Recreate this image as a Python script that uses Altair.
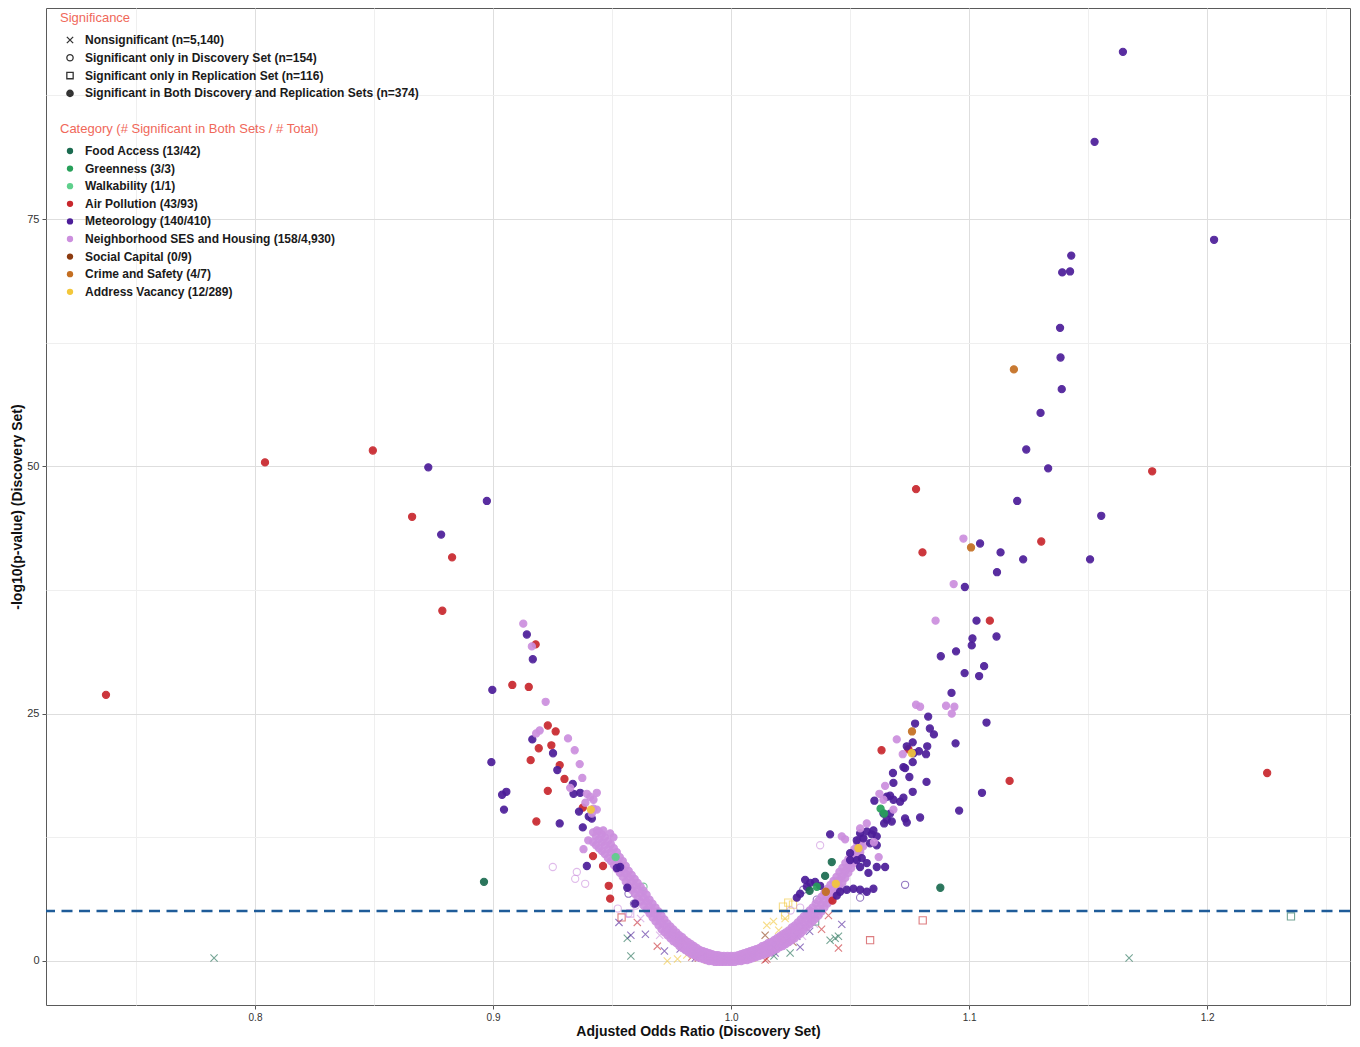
import altair as alt
import pandas as pd

FONT = "Liberation Sans"

CATEGORIES = [
    "Food Access (13/42)", "Greenness (3/3)", "Walkability (1/1)",
    "Air Pollution (43/93)", "Meteorology (140/410)",
    "Neighborhood SES and Housing (158/4,930)", "Social Capital (0/9)",
    "Crime and Safety (4/7)", "Address Vacancy (12/289)",
]
CAT_COLORS = ["#1b6b50", "#27a05a", "#5fd08c", "#c8272d", "#4c1d99",
              "#cc8fde", "#8c3b10", "#c46f22", "#f3c73a"]
SIGNIFICANCE = [
    "Nonsignificant (n=5,140)",
    "Significant only in Discovery Set (n=154)",
    "Significant only in Replication Set (n=116)",
    "Significant in Both Discovery and Replication Sets (n=374)",
]
X_GRID = [0.75, 0.8, 0.85, 0.9, 0.95, 1.0, 1.05, 1.1, 1.15, 1.2, 1.25]
Y_GRID = [0, 12.5, 25, 37.5, 50, 62.5, 75, 87.5]
X_DOMAIN = [0.7122, 1.2600]
Y_DOMAIN = [-4.45, 96.33]
THRESHOLD = 5.05

# ---- significant in both sets ----
air_both = [(0.7374, 26.9), (0.8042, 50.4), (0.8495, 51.6), (0.8660, 44.9), (0.8828, 40.8),
            (0.8787, 35.4), (0.9081, 27.9), (0.9150, 27.7), (0.9179, 32.0), (0.9230, 23.8),
            (0.9263, 23.2), (0.9192, 21.5), (0.9245, 21.8), (0.9158, 20.3), (0.9280, 19.8),
            (0.9300, 18.4), (0.9230, 17.2), (0.9377, 15.5), (0.9182, 14.1), (0.9420, 10.6),
            (0.9462, 9.6), (0.9486, 7.6), (0.9492, 6.3),
            (1.0777, 47.7), (1.0804, 41.3), (1.1303, 42.4), (1.1087, 34.4), (1.1769, 49.5),
            (1.2252, 19.0), (1.1170, 18.2), (1.0632, 21.3), (1.0745, 21.4), (1.0426, 6.1)]

met_both = [(0.8728, 49.9), (0.8782, 43.1), (0.8974, 46.5), (0.8997, 27.4), (0.8993, 20.1),
            (0.9142, 33.0), (0.9167, 30.5), (0.9165, 22.4), (0.9252, 21.0), (0.9270, 19.3),
            (0.9335, 17.9), (0.9366, 17.0), (0.9038, 16.8), (0.9056, 17.1), (0.9046, 15.3),
            (0.9361, 15.1), (0.9402, 14.6), (0.9280, 13.9), (0.9377, 13.5), (0.9394, 9.6),
            (0.9564, 7.4), (0.9520, 9.4), (0.9534, 9.5), (0.9338, 16.9), (0.9597, 5.8),
            (0.9415, 14.4),
            (1.1646, 91.9), (1.1527, 82.8), (1.2029, 72.9), (1.1429, 71.3), (1.1391, 69.6),
            (1.1424, 69.7), (1.1382, 64.0), (1.1384, 61.0), (1.1389, 57.8), (1.1300, 55.4),
            (1.1240, 51.7), (1.1332, 49.8), (1.1202, 46.5), (1.1555, 45.0), (1.1508, 40.6),
            (1.1227, 40.6), (1.1046, 42.2), (1.1132, 41.3), (1.1117, 39.3), (1.0982, 37.8),
            (1.1031, 34.4), (1.1014, 32.6), (1.1011, 31.9), (1.1115, 32.8), (1.0945, 31.3),
            (1.0881, 30.8), (1.1063, 29.8), (1.0981, 29.1), (1.1042, 28.8), (1.0926, 27.1),
            (1.0828, 24.7), (1.1073, 24.1), (1.0773, 24.0), (1.0835, 23.5), (1.0852, 22.9),
            (1.0943, 22.0), (1.0763, 22.1), (1.0824, 21.7), (1.0789, 21.2), (1.0819, 20.9),
            (1.0766, 21.0), (1.0738, 21.7), (1.0763, 20.1), (1.0724, 19.6), (1.0731, 19.5),
            (1.0749, 18.6), (1.0680, 19.0), (1.0682, 18.0), (1.0821, 18.1), (1.1054, 17.0),
            (1.0763, 17.1), (1.0602, 16.2), (1.0710, 16.1), (1.0724, 16.5), (1.0668, 16.7),
            (1.0654, 16.6), (1.0682, 16.3), (1.0958, 15.2), (1.0731, 14.4), (1.0794, 14.5),
            (1.0643, 13.9), (1.0675, 14.1), (1.0738, 14.0), (1.0654, 14.3), (1.0640, 14.9),
            (1.0668, 14.9), (1.0416, 12.8), (1.0542, 12.9), (1.0570, 13.1), (1.0591, 12.8),
            (1.0612, 12.6), (1.0598, 13.2), (1.0556, 12.4), (1.0584, 11.9), (1.0612, 11.7),
            (1.0528, 12.2), (1.0500, 10.9), (1.0500, 10.2), (1.0528, 10.2), (1.0549, 10.4),
            (1.0570, 9.9), (1.0542, 9.5), (1.0612, 9.5), (1.0647, 9.5), (1.0577, 8.9),
            (1.0311, 8.2), (1.0332, 7.9), (1.0353, 8.0), (1.0276, 6.4), (1.0318, 7.5),
            (1.0458, 7.0), (1.0486, 7.2), (1.0514, 7.3), (1.0542, 7.2), (1.0570, 7.0),
            (1.0598, 7.3), (1.0444, 6.6), (1.0290, 6.8), (1.0374, 7.6)]

ses_both = [(0.9127, 34.1), (0.9163, 31.8), (0.9221, 26.2), (0.9196, 23.3), (0.9181, 23.0),
            (0.9315, 22.5), (0.9343, 21.3), (0.9364, 19.9), (0.9375, 18.5), (0.9324, 17.5),
            (0.9436, 17.0), (0.9408, 16.6), (0.9388, 16.0), (0.9436, 15.3), (0.9422, 15.4),
            (0.9415, 14.9), (0.9422, 16.3), (0.9394, 16.9), (0.9436, 13.2), (0.9463, 13.2),
            (0.9492, 12.9), (0.9506, 12.5), (0.9400, 12.2), (0.9380, 11.3),
            (1.0976, 42.7), (1.0935, 38.1), (1.0859, 34.4), (1.0777, 25.9), (1.0794, 25.7),
            (1.0903, 25.8), (1.0938, 25.7), (1.0927, 25.0), (1.0696, 22.4), (1.0721, 20.9),
            (1.0647, 17.7), (1.0623, 16.9), (1.0640, 16.3), (1.0682, 15.3), (1.0570, 13.9),
            (1.0542, 13.4), (1.0465, 12.6), (1.0479, 12.3), (1.0600, 12.0), (1.0620, 10.5)]

# the dense V of Neighborhood SES and Housing points: x and the y values seen at that x
ses_band_x = [0.9420, 0.9445, 0.9470, 0.9495, 0.9520, 0.9545, 0.9570, 0.9595, 0.9620,
              0.9645, 0.9670, 0.9695, 0.9720, 0.9745, 0.9770, 0.9795, 0.9820, 0.9845,
              0.9870, 0.9895, 0.9920, 0.9945, 0.9970, 1.0000, 1.0030, 1.0055, 1.0080,
              1.0105, 1.0130, 1.0155, 1.0180, 1.0205, 1.0230, 1.0255, 1.0280, 1.0305,
              1.0330, 1.0355, 1.0380, 1.0405, 1.0430, 1.0455, 1.0480, 1.0505, 1.0530,
              1.0555]
ses_band_y = [[12.0, 13.0], [11.4, 12.3, 13.1], [10.8, 11.7, 12.5], [10.1, 11.0, 11.8],
              [9.3, 10.2, 11.0], [8.5, 9.3, 10.1], [7.6, 8.4, 9.1], [6.8, 7.6, 8.3],
              [6.0, 6.8, 7.5], [5.2, 6.0, 6.7], [4.4, 5.1, 5.8], [3.6, 4.3, 5.0],
              [2.9, 3.6, 4.2], [2.3, 2.9, 3.5], [1.8, 2.4, 2.9], [1.3, 1.9, 2.4],
              [0.9, 1.4, 1.9], [0.6, 1.0, 1.5], [0.3, 0.7, 1.1], [0.1, 0.5, 0.9],
              [0.0, 0.3, 0.7], [-0.1, 0.2, 0.6], [-0.1, 0.2, 0.5], [-0.1, 0.2, 0.5],
              [0.0, 0.3, 0.6], [0.1, 0.4, 0.8], [0.2, 0.6, 1.0], [0.4, 0.8, 1.2],
              [0.6, 1.0, 1.5], [0.8, 1.3, 1.8], [1.1, 1.6, 2.1], [1.4, 1.9, 2.5],
              [1.7, 2.3, 2.9], [2.1, 2.7, 3.4], [2.6, 3.2, 3.9], [3.1, 3.8, 4.5],
              [3.7, 4.4, 5.1], [4.3, 5.0, 5.8], [5.0, 5.7, 6.5], [5.8, 6.5, 7.3],
              [6.6, 7.3, 8.1], [7.5, 8.2, 9.0], [8.4, 9.1, 9.9], [9.4, 10.1, 10.8],
              [10.5, 11.2, 11.9], [11.6, 12.3]]
ses_band2_x = [0.94325, 0.94575, 0.94825, 0.95075, 0.95325, 0.95575, 0.95825, 0.96075,
               0.96325, 0.96575, 0.96825, 0.97075, 0.97325, 0.97575, 0.97825, 0.98075,
               0.98325, 0.98575, 0.98825, 0.99075, 0.99325, 0.99575, 0.99850, 1.00150,
               1.00425, 1.00675, 1.00925, 1.01175, 1.01425, 1.01675, 1.01925, 1.02175,
               1.02425, 1.02675, 1.02925, 1.03175, 1.03425, 1.03675, 1.03925, 1.04175,
               1.04425, 1.04675, 1.04925, 1.05175, 1.05425]
ses_band2_y = [[11.7, 12.6], [11.1, 12.0, 12.8], [10.4, 11.3, 12.1], [9.7, 10.6, 11.4],
               [8.9, 9.7, 10.5], [8.0, 8.8, 9.6], [7.2, 8.0, 8.7], [6.4, 7.2, 7.9],
               [5.6, 6.4, 7.1], [4.8, 5.5, 6.2], [4.0, 4.7, 5.4], [3.2, 3.9, 4.6],
               [2.6, 3.2, 3.8], [2.0, 2.6, 3.2], [1.5, 2.1, 2.6], [1.1, 1.6, 2.1],
               [0.7, 1.2, 1.7], [0.4, 0.8, 1.3], [0.2, 0.6, 1.0], [0.0, 0.4, 0.8],
               [-0.1, 0.3, 0.6], [-0.1, 0.2, 0.5], [-0.1, 0.2, 0.5], [-0.1, 0.2, 0.5],
               [0.0, 0.4, 0.7], [0.1, 0.5, 0.9], [0.3, 0.7, 1.1], [0.5, 0.9, 1.3],
               [0.7, 1.1, 1.6], [0.9, 1.4, 1.9], [1.2, 1.7, 2.3], [1.5, 2.1, 2.7],
               [1.9, 2.5, 3.1], [2.3, 2.9, 3.6], [2.8, 3.5, 4.2], [3.4, 4.1, 4.8],
               [4.0, 4.7, 5.4], [4.6, 5.3, 6.1], [5.4, 6.1, 6.9], [6.2, 6.9, 7.7],
               [7.0, 7.7, 8.5], [7.9, 8.6, 9.4], [8.9, 9.6, 10.3], [9.9, 10.6, 11.3],
               [11.0, 11.7, 12.4]]

food_both = [(0.8962, 8.0), (1.0423, 10.0), (1.0395, 8.6), (1.0330, 7.1), (1.0879, 7.4)]
green_both = [(1.0643, 14.9), (1.0628, 15.4), (1.0360, 7.5)]
walk_both = [(0.9515, 10.5)]
crime_both = [(1.1188, 59.8), (1.1008, 41.8), (1.0760, 23.2), (1.0398, 7.0)]
vac_both = [(1.0759, 21.0), (1.0535, 11.4), (0.9411, 15.3), (1.0440, 7.8)]

# ---- significant only in discovery set (open circles) ----
ses_disc = [(0.9251, 9.5), (0.9352, 9.0), (0.9345, 8.3), (0.9387, 7.8), (0.9524, 5.3),
            (0.9569, 4.8), (1.0374, 11.7), (0.9600, 5.6), (1.0290, 5.4), (1.0250, 5.1)]
met_disc = [(0.9569, 6.8), (0.9592, 5.8), (1.0542, 6.4), (1.0731, 7.7), (1.0303, 7.2),
            (1.0360, 6.2)]
green_disc = [(0.9632, 7.5)]

# ---- significant only in replication set (open squares) ----
food_rep = [(1.2352, 4.5), (1.0353, 4.0)]
air_rep = [(1.0805, 4.1), (1.0584, 2.1), (0.9540, 4.4)]
ses_rep = [(0.9576, 4.8)]
vac_rep = [(1.0218, 5.5), (1.0240, 5.9), (1.0260, 5.7), (1.0227, 4.6)]

# ---- nonsignificant (x) ----
food_ns = [(0.7828, 0.3), (1.1672, 0.3), (0.9564, 2.3), (0.9579, 0.5), (1.0416, 2.1),
           (1.0437, 2.3), (1.0451, 2.5), (1.0248, 0.8), (1.0180, 0.5)]
met_ns = [(0.9529, 3.9), (0.9579, 2.6), (0.9640, 2.7), (0.9786, 1.2), (1.0465, 3.7),
          (1.0234, 2.1), (1.0276, 2.5), (1.0290, 1.4), (1.0178, 1.4), (1.0185, 0.8),
          (0.9720, 1.0), (0.9850, 0.3), (1.0330, 3.0)]
air_ns = [(0.9606, 3.9), (0.9835, 0.4), (0.9863, 0.3), (1.0451, 1.3), (1.0368, 4.8),
          (1.0409, 4.6), (1.0150, 0.2), (1.0143, 0.1), (0.9690, 1.5), (1.0380, 3.2)]
vac_ns = [(0.9732, 0.0), (0.9814, 0.6), (1.0178, 4.0), (1.0227, 4.3), (0.9775, 0.2),
          (0.9900, 0.1), (1.0090, 0.3), (1.0120, 1.2), (1.0200, 3.1), (1.0150, 3.6)]
crime_ns = [(0.9800, 2.1), (1.0206, 2.1)]
soc_ns = [(0.9850, 0.9), (1.0143, 2.6), (1.0260, 1.9)]
ses_ns = [(0.9620, 4.3), (0.9700, 2.6), (1.0300, 2.5), (1.0350, 3.7)]

ses_band = ([(x, y) for x, ys in zip(ses_band_x, ses_band_y) for y in ys]
            + [(x, y) for x, ys in zip(ses_band2_x, ses_band2_y) for y in ys])

# (points, category index, significance index, draw order)
groups = [
    (food_ns, 0, 0, 0), (met_ns, 4, 0, 0), (air_ns, 3, 0, 0), (vac_ns, 8, 0, 0),
    (crime_ns, 7, 0, 0), (soc_ns, 6, 0, 0), (ses_ns, 5, 0, 0),
    (food_rep, 0, 2, 1), (air_rep, 3, 2, 1), (ses_rep, 5, 2, 1), (vac_rep, 8, 2, 1),
    (ses_disc, 5, 1, 2), (met_disc, 4, 1, 2), (green_disc, 1, 1, 2),
    (ses_band, 5, 3, 3),
    (air_both, 3, 3, 4), (met_both, 4, 3, 4), (ses_both, 5, 3, 4), (food_both, 0, 3, 4),
    (green_both, 1, 3, 4), (walk_both, 2, 3, 4), (crime_both, 7, 3, 4), (vac_both, 8, 3, 4),
]
rows = []
for pts, ci, si, order in groups:
    for x, y in pts:
        rows.append({
            "OR": x, "logp": y, "cat": CATEGORIES[ci], "sig": SIGNIFICANCE[si],
            "fillcat": CATEGORIES[ci] if si == 3 else "none",
            "alpha": 0.92 if si == 3 else 0.6, "ord": order,
        })
df = pd.DataFrame(rows)

# symbol shapes: an "x", open circle, open square, and a circle drawn as nested rings
XPATH = "M-1,-1L1,1M-1,1L1,-1"
DISC = ("M-1,0A1,1 0 1,0 1,0A1,1 0 1,0 -1,0"
        "M-0.62,0A0.62,0.62 0 1,0 0.62,0A0.62,0.62 0 1,0 -0.62,0"
        "M-0.28,0A0.28,0.28 0 1,0 0.28,0A0.28,0.28 0 1,0 -0.28,0")

legend_common = dict(
    orient="none", padding=0, titleColor="#f0685a", titleFont=FONT, titleFontSize=13,
    titleFontWeight="normal", titleLimit=700, labelFont=FONT, labelFontSize=12,
    labelFontWeight="bold", labelColor="#1a1a1a", symbolSize=40, symbolOpacity=1,
    symbolOffset=4, labelOffset=9, labelLimit=700,
)

shape_legend = alt.Legend(
    title="Significance", legendX=14, legendY=4, rowPadding=5.8, titlePadding=9,
    symbolFillColor="transparent", symbolStrokeColor="#333333", symbolStrokeWidth=1.3,
    **legend_common,
)
fill_legend = alt.Legend(
    title="Category (# Significant in Both Sets / # Total)", legendX=14, legendY=115,
    rowPadding=5.6, titlePadding=9,
    symbolType="circle", values=CATEGORIES, symbolStrokeWidth=0,
    **legend_common,
)

x_major = "abs(datum.value*10 - round(datum.value*10)) < 0.001"
y_major = "datum.value % 25 == 0"

x_axis = alt.Axis(
    values=X_GRID, title="Adjusted Odds Ratio (Discovery Set)",
    labelExpr=f"{x_major} ? format(datum.value, '.1f') : ''",
    titleFont=FONT, titleFontSize=14, titleFontWeight="bold", titleColor="#111111",
    labelFont=FONT, labelFontSize=10, labelColor="#333333", labelPadding=3,
    tickSize=4, tickColor={"condition": {"test": x_major, "value": "#555555"}, "value": "transparent"},
    gridColor={"condition": {"test": x_major, "value": "#dedede"}, "value": "#efefef"},
    domain=False, titlePadding=2, labelOverlap=False, labelFlush=False,
)
y_axis = alt.Axis(
    values=Y_GRID, title="-log10(p-value) (Discovery Set)",
    labelExpr=f"{y_major} ? datum.label : ''",
    titleFont=FONT, titleFontSize=14, titleFontWeight="bold", titleColor="#111111",
    labelFont=FONT, labelFontSize=11, labelColor="#333333", labelPadding=3,
    tickSize=4, tickColor={"condition": {"test": y_major, "value": "#555555"}, "value": "transparent"},
    gridColor={"condition": {"test": y_major, "value": "#dedede"}, "value": "#efefef"},
    domain=False, titlePadding=2, labelOverlap=False,
)

points = alt.Chart(df).mark_point(filled=False, size=52, strokeWidth=1.1).encode(
    x=alt.X("OR:Q", scale=alt.Scale(domain=X_DOMAIN, nice=False, zero=False), axis=x_axis),
    y=alt.Y("logp:Q", scale=alt.Scale(domain=Y_DOMAIN, nice=False, zero=False), axis=y_axis),
    color=alt.Color("cat:N", scale=alt.Scale(domain=CATEGORIES, range=CAT_COLORS), legend=None),
    fill=alt.Fill("fillcat:N", scale=alt.Scale(domain=CATEGORIES + ["none"], range=CAT_COLORS + ["transparent"]), legend=fill_legend),
    shape=alt.Shape("sig:N", scale=alt.Scale(domain=SIGNIFICANCE, range=[XPATH, "circle", "square", DISC]), legend=shape_legend),
    opacity=alt.Opacity("alpha:Q", scale=None),
    order=alt.Order("ord:Q"),
)

rule = alt.Chart(pd.DataFrame({"t": [THRESHOLD]})).mark_rule(
    color="#1f5c99", strokeDash=[11, 6.5], strokeWidth=2.5
).encode(y="t:Q")

chart = alt.layer(points, rule).properties(
    width=1304, height=997, autosize="none",
    padding={"left": 38, "top": 0, "right": 2, "bottom": 40},
).configure_view(stroke="#5a5a5a", strokeWidth=1)

chart.save("out.html", embed_options={"renderer": "svg", "actions": False})
